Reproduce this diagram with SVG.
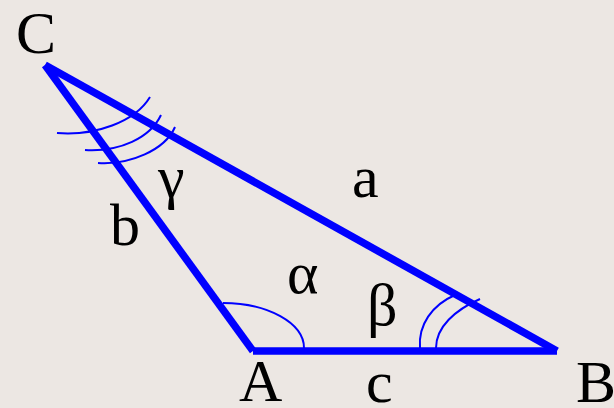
<svg xmlns="http://www.w3.org/2000/svg" width="614" height="408" viewBox="0 0 614 408">
<style>
.side{stroke:#0000FF;stroke-width:7.5;fill:none;stroke-linecap:butt}
.arc{stroke:#0000FF;stroke-width:2;fill:none}
.lbl{font-family:"Liberation Serif","Times New Roman",serif;font-size:60px;fill:#000}
</style>
<rect width="614" height="408" fill="#ECE7E3"/>
<g id="connectors">
<line class="side" x1="45" y1="65" x2="253" y2="351"/>
<line class="side" x1="253" y1="351" x2="557" y2="351"/>
<line class="side" x1="45" y1="65" x2="557" y2="351"/>
</g>
<g id="angle-arcs">
<path class="arc" d="M223,303 A81,45 0 0 1 304,348"/>
<path class="arc" d="M420,348 C418,325 432,305 455,295"/>
<path class="arc" d="M436,348 C436,327 455,310 480,299"/>
<path class="arc" d="M57,133 C95,136 135,122 150,97"/>
<path class="arc" d="M85,150 C120,152 150,138 161,115"/>
<path class="arc" d="M98,163 C130,165 165,150 175,127"/>
</g>
<g id="node-C"><text class="lbl" x="16" y="53">C</text></g>
<g id="node-A"><text class="lbl" x="239" y="401">A</text></g>
<g id="node-B"><text class="lbl" x="576" y="402">B</text></g>
<g id="label-a"><text class="lbl" x="352" y="197">a</text></g>
<g id="label-b"><text class="lbl" x="110" y="245">b</text></g>
<g id="label-c"><text class="lbl" x="366" y="402">c</text></g>
<g id="label-alpha"><text class="lbl" x="287" y="293">α</text></g>
<g id="label-beta"><text class="lbl" x="367" y="325">β</text></g>
<g id="label-gamma"><text class="lbl" x="158" y="197">γ</text></g>
</svg>
